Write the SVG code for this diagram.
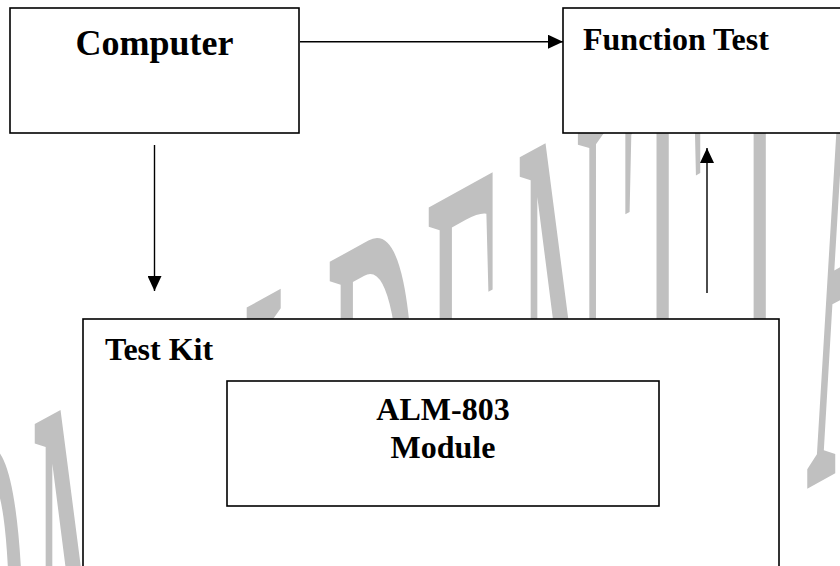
<svg xmlns="http://www.w3.org/2000/svg" width="840" height="566" viewBox="0 0 840 566">
  <style>
    .box { fill: #ffffff; stroke: #000000; stroke-width: 1.6; }
    .lbl { font-family: "Liberation Serif", "Times New Roman", serif; font-weight: bold; fill: #000000; }
    .wm { font-family: "Liberation Serif", "Times New Roman", serif; font-weight: normal; fill: #c0c0c0; }
    .conn { stroke: #000000; stroke-width: 1.4; fill: none; }
  </style>
  <defs>
    <marker id="arrow" markerUnits="userSpaceOnUse" markerWidth="15" markerHeight="14" refX="15" refY="7" orient="auto" viewBox="0 0 15 14">
      <path d="M0,0 L15,7 L0,14 Z" fill="#000000"/>
    </marker>
  </defs>
  <rect x="0" y="0" width="840" height="566" fill="#ffffff"/>

  <g id="watermark">
    <text class="wm" font-size="130" transform="matrix(1,-0.55,0,5.75,0,0)" x="-152 -65 31 140 242 326 425 516 623 738 806 900" y="162.2">CONFIDENTIAL</text>
  </g>

  <g id="node-computer">
    <rect class="box" x="10" y="8" width="289" height="125"/>
    <text class="lbl" x="154.5" y="55" font-size="36" text-anchor="middle">Computer</text>
  </g>

  <g id="node-function-test">
    <rect class="box" x="563" y="8" width="290" height="125"/>
    <text class="lbl" x="583" y="50" font-size="32">Function Test</text>
  </g>

  <g id="node-test-kit">
    <rect class="box" x="83" y="319" width="696" height="270"/>
    <text class="lbl" x="105" y="360" font-size="32">Test Kit</text>
  </g>

  <g id="node-alm803">
    <rect class="box" x="227" y="381" width="432" height="125"/>
    <text class="lbl" x="443" y="420" font-size="32" text-anchor="middle">ALM-803</text>
    <text class="lbl" x="443" y="458" font-size="32" text-anchor="middle">Module</text>
  </g>

  <g id="connectors">
    <line class="conn" x1="300" y1="41.7" x2="563" y2="41.7" marker-end="url(#arrow)"/>
    <line class="conn" x1="154.5" y1="145" x2="154.5" y2="291" marker-end="url(#arrow)"/>
    <line class="conn" x1="707" y1="293" x2="707" y2="148" marker-end="url(#arrow)"/>
  </g>
</svg>
